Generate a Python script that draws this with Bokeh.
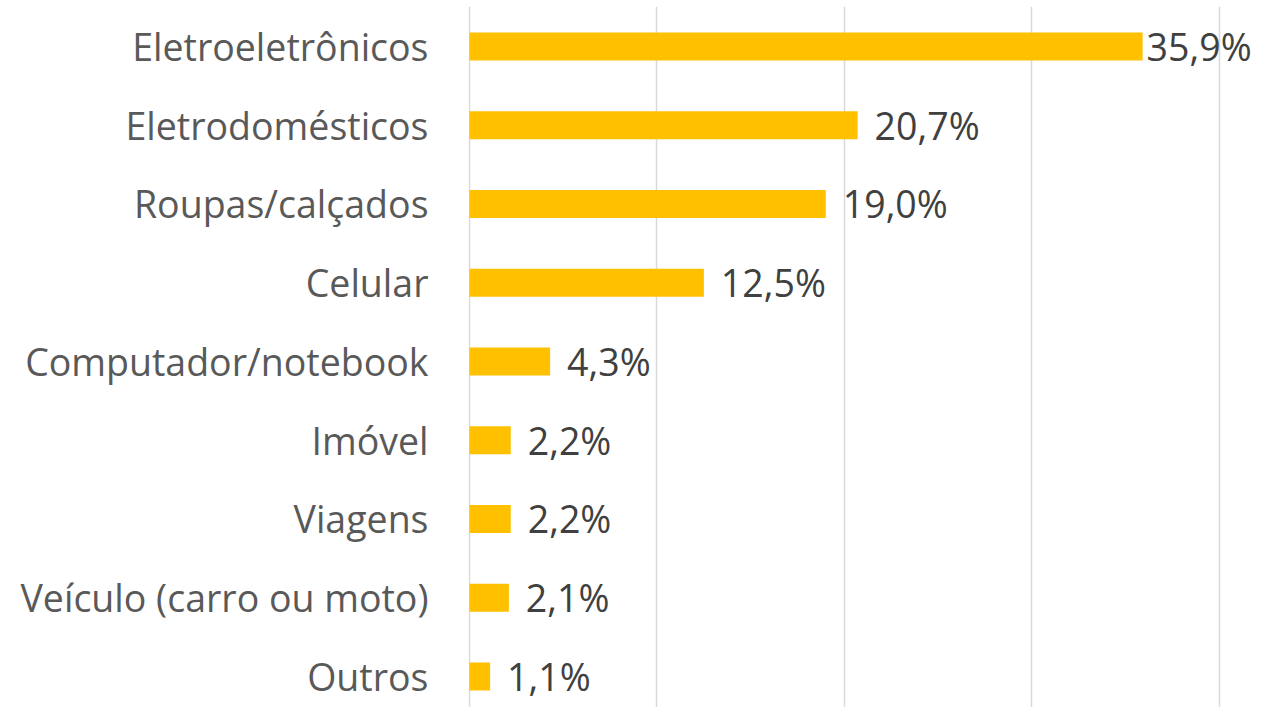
from bokeh.plotting import figure
from bokeh.models import Range1d, FixedTicker, ColumnDataSource
from bokeh.core.properties import value
from bokeh.embed import file_html
from bokeh.resources import INLINE

categories = ["Eletroeletrônicos", "Eletrodomésticos", "Roupas/calçados", "Celular",
              "Computador/notebook", "Imóvel", "Viagens", "Veículo (carro ou moto)", "Outros"]
values = [35.9, 20.7, 19.0, 12.5, 4.3, 2.2, 2.2, 2.1, 1.1]
x_ticks = [0, 10, 20, 30, 40]

idx = list(range(len(categories)))
labels = [f"{v:.1f}".replace(".", ",") + "%" for v in values]
offsets = [4] + [17] * (len(values) - 1)

src = ColumnDataSource(dict(y=idx, v=values, lab=labels, off=offsets))

p = figure(width=1270, height=707, output_backend="svg", toolbar_location=None,
           x_range=Range1d(-0.0533, 42.72), y_range=Range1d(8.394, -0.508),
           min_border_left=468, min_border_right=0, min_border_top=6, min_border_bottom=0)
p.outline_line_color = None
p.xaxis.visible = False
p.ygrid.visible = False
p.xgrid.ticker = FixedTicker(ticks=x_ticks)
p.xgrid.grid_line_color = "#D9D9D9"
p.xgrid.grid_line_width = 1.5

p.hbar(y="y", right="v", left=0, height=0.356, source=src, color="#FFC000", line_color=None)
p.text(x="v", y="y", text="lab", x_offset="off", source=src, text_baseline="middle",
       text_align="left", text_font=value("Open Sans"), text_font_size="37.5px",
       text_color="#404040")

ax = p.yaxis[0]
ax.ticker = FixedTicker(ticks=idx)
ax.major_label_overrides = {i: c for i, c in zip(idx, categories)}
ax.axis_line_color = None
ax.major_tick_line_color = None
ax.minor_tick_line_color = None
ax.major_tick_out = 0
ax.major_label_standoff = 40
ax.major_label_text_font = "Open Sans"
ax.major_label_text_font_size = "37.5px"
ax.major_label_text_color = "#595959"

open("out.html", "w").write(file_html(p, INLINE))
